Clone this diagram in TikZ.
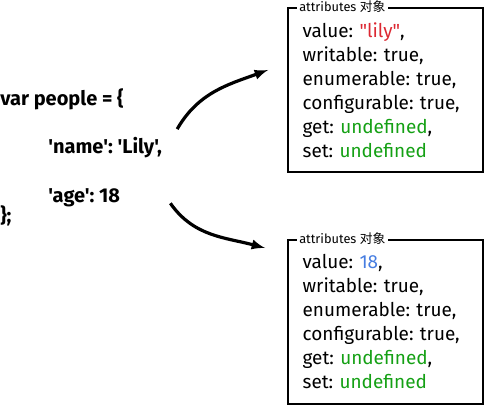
\documentclass[tikz,border=0pt]{standalone}
\usepackage{fontspec}
\setmainfont{Fira Sans}[Ligatures=TeXOff]
\newfontfamily\cjk{Noto Sans CJK SC}
\usetikzlibrary{arrows,positioning}
\usepackage{xcolor}
\frenchspacing
\newcommand{\boxfont}{\fontsize{14.2}{18}\selectfont}
\newcommand{\codefont}{\fontsize{15}{18}\selectfont\bfseries}
\tikzset{
    codesty/.style={anchor=base west,inner sep=0pt,font=\codefont},
    attrsty/.style={draw,line width=1.5pt,rectangle,anchor=north west,align=left,
        text width=124.25pt,inner xsep=11pt,minimum width=146.25pt,minimum height=123pt,font=\boxfont},
    titlesty/.style={fill=white,inner sep=2pt,anchor=west,font=\fontsize{9.6}{10}\selectfont},
    arrsty/.style={->,line width=2.4pt},
}
\definecolor{strred}{RGB}{220,40,50}
\definecolor{numblue}{RGB}{70,125,225}
\definecolor{undefgreen}{RGB}{20,160,20}

\begin{document}
\begin{tikzpicture}[x=0.75pt,y=0.75pt,>=latex]
\useasboundingbox (0,0) rectangle (485,404);

% code on the left
\node[codesty] (var) at (0,298) {var people = \{};
\node[codesty] (name) at (48,251) {'name': 'Lily',};
\node[codesty] (age) at (48,202) {'age': 18};
\node[codesty] (close) at (0,182) {\};};

% attribute boxes
\node[attrsty] (attrA) at (287,397) {value: \textcolor{strred}{"lily"},\\
  writable: true,\\ enumerable: true,\\ configurable: true,\\
  get: \textcolor{undefgreen}{undefined},\\ set: \textcolor{undefgreen}{undefined}};
\node[titlesty] (titleA) at ([xshift=7pt]attrA.north west) {attributes {\cjk 对象}};

\node[attrsty] (attrB) at (287,165) {value: \textcolor{numblue}{18},\\
  writable: true,\\ enumerable: true,\\ configurable: true,\\
  get: \textcolor{undefgreen}{undefined},\\ set: \textcolor{undefgreen}{undefined}};
\node[titlesty] (titleB) at ([xshift=7pt]attrB.north west) {attributes {\cjk 对象}};

% arrows
\coordinate (nameout) at ([shift={(15,18)}]name.east);
\coordinate (ageout) at ([shift={(50,-6)}]age.east);
\coordinate (tipA) at ([shift={(-19,-63)}]attrA.north west);
\coordinate (tipB) at ([shift={(-22,-9)}]attrB.north west);
\draw[arrsty] (nameout) to[out=60,in=200] (tipA);
\draw[arrsty] (ageout) to[out=-55,in=165] (tipB);
\end{tikzpicture}
\end{document}
